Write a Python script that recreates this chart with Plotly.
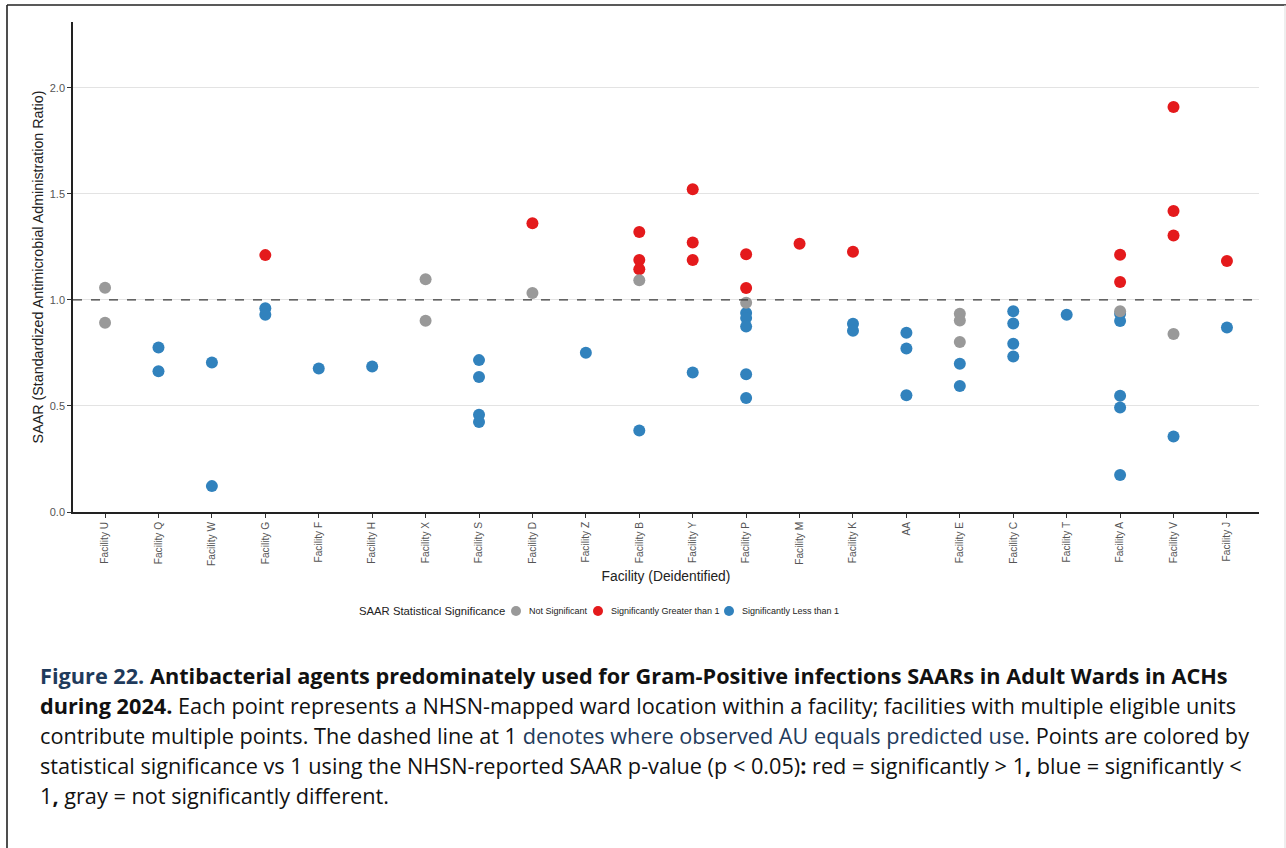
import plotly.graph_objects as go

# Facility order along the x axis
facilities = ["Facility U", "Facility Q", "Facility W", "Facility G", "Facility F",
              "Facility H", "Facility X", "Facility S", "Facility D", "Facility Z",
              "Facility B", "Facility Y", "Facility P", "Facility M", "Facility K",
              "AA", "Facility E", "Facility C", "Facility T", "Facility A",
              "Facility V", "Facility J"]

# Ward-level SAARs, grouped by significance category
not_sig_fac = ["Facility U", "Facility U", "Facility X", "Facility X", "Facility D",
               "Facility B", "Facility P", "Facility E", "Facility E", "Facility E",
               "Facility A", "Facility V"]
not_sig_val = [1.057, 0.892, 1.097, 0.902, 1.032,
               1.092, 0.987, 0.935, 0.903, 0.801,
               0.946, 0.839]

greater_fac = ["Facility G", "Facility D", "Facility B", "Facility B", "Facility B",
               "Facility Y", "Facility Y", "Facility Y", "Facility P", "Facility P",
               "Facility M", "Facility K", "Facility A", "Facility A",
               "Facility V", "Facility V", "Facility V", "Facility J"]
greater_val = [1.211, 1.361, 1.320, 1.188, 1.144,
               1.521, 1.271, 1.188, 1.215, 1.056,
               1.265, 1.227, 1.213, 1.084,
               1.909, 1.419, 1.303, 1.183]

less_fac = ["Facility Q", "Facility Q", "Facility W", "Facility W", "Facility G", "Facility G",
            "Facility F", "Facility H", "Facility S", "Facility S", "Facility S", "Facility S",
            "Facility Z", "Facility B", "Facility Y",
            "Facility P", "Facility P", "Facility P", "Facility P", "Facility P",
            "Facility K", "Facility K", "AA", "AA", "AA", "Facility E", "Facility E",
            "Facility C", "Facility C", "Facility C", "Facility C", "Facility T",
            "Facility A", "Facility A", "Facility A", "Facility A", "Facility A",
            "Facility V", "Facility J"]
less_val = [0.775, 0.664, 0.705, 0.122, 0.960, 0.930,
            0.677, 0.686, 0.716, 0.636, 0.458, 0.424,
            0.751, 0.384, 0.658,
            0.938, 0.914, 0.875, 0.649, 0.537,
            0.888, 0.855, 0.845, 0.771, 0.550, 0.699, 0.594,
            0.946, 0.889, 0.793, 0.733, 0.930,
            0.935, 0.900, 0.548, 0.493, 0.174,
            0.356, 0.870]

y_ticks = [0.0, 0.5, 1.0, 1.5, 2.0]
reference_line = 1.0
legend_title = "SAAR Statistical Significance"

C_GRAY = "#999999"
C_RED = "#E41A1C"
C_BLUE = "#3182BD"
NAVY = "#1F3B5C"
TICK_FONT = "Liberation Sans, Arial, sans-serif"
CAP_FONT = "'Open Sans', 'Noto Sans', sans-serif"

# Plot-area geometry (pixels) used to place the outside elements
W, H = 1286, 848
ML, MR, MT, MB = 73, 27, 22, 336
PW = W - ML - MR
PH = H - MT - MB


def px_x(px):
    return (px - ML) / PW


def px_y(py):
    return (H - MB - py) / PH


fig = go.Figure()

series = [
    ("Significantly Less than 1", less_fac, less_val, C_BLUE),
    ("Significantly Greater than 1", greater_fac, greater_val, C_RED),
    ("Not Significant", not_sig_fac, not_sig_val, C_GRAY),
]
for name, xs, ys, col in series:
    fig.add_trace(go.Scatter(
        x=xs, y=ys, mode="markers", name=name, showlegend=False,
        marker=dict(size=12, color=col, line=dict(width=0)),
        hovertemplate="%{x}<br>SAAR %{y:.2f}<extra>" + name + "</extra>",
    ))

# Dashed reference line at SAAR = 1
fig.add_shape(type="line", xref="paper", yref="y", x0=0, x1=1,
              y0=reference_line, y1=reference_line,
              line=dict(color="#3a3a3a", width=1.4, dash="dash"))

# Horizontal key below the x-axis title
legend_y = px_y(611)
fig.add_annotation(text=legend_title, xref="paper", yref="paper",
                   x=px_x(357), y=legend_y, xanchor="left", yanchor="middle",
                   showarrow=False,
                   font=dict(family=TICK_FONT, size=11.3, color="#222222"))
key_entries = [("Not Significant", C_GRAY, 516), ("Significantly Greater than 1", C_RED, 598),
               ("Significantly Less than 1", C_BLUE, 729)]
for label, col, dot_px in key_entries:
    fig.add_shape(type="circle", xref="paper", yref="paper",
                  xsizemode="pixel", ysizemode="pixel",
                  xanchor=px_x(dot_px), yanchor=legend_y,
                  x0=-5, x1=5, y0=-5, y1=5,
                  fillcolor=col, line=dict(width=0))
    fig.add_annotation(text=label, xref="paper", yref="paper",
                       x=px_x(dot_px + 11), y=legend_y, xanchor="left", yanchor="middle",
                       showarrow=False,
                       font=dict(family=TICK_FONT, size=9, color="#222222"))

# Outer frame around the figure block
frame = dict(color="#222222", width=1.6)
fig.add_shape(type="line", xref="paper", yref="paper",
              x0=px_x(7), x1=px_x(1286), y0=px_y(5), y1=px_y(5), line=frame)
fig.add_shape(type="line", xref="paper", yref="paper",
              x0=px_x(7), x1=px_x(7), y0=px_y(5), y1=px_y(850), line=frame)
fig.add_shape(type="line", xref="paper", yref="paper",
              x0=px_x(1285), x1=px_x(1285), y0=px_y(5), y1=px_y(850),
              line=dict(color="#dddddd", width=1))

# Caption beneath the chart
caption_lines = [
    "<b><span style='color:%s'>Figure 22.</span> Antibacterial agents predominately used for "
    "Gram-Positive infections SAARs in Adult Wards in ACHs</b>" % NAVY,
    "<b>during 2024.</b> Each point represents a NHSN-mapped ward location within a facility; "
    "facilities with multiple eligible units",
    "contribute multiple points. The dashed line at 1 <span style='color:%s'>denotes where observed "
    "AU equals predicted use</span>. Points are colored by" % NAVY,
    "statistical significance vs 1 using the NHSN-reported SAAR p-value (p &lt; 0.05)<b>:</b> "
    "red = significantly &gt; 1<b>,</b> blue = significantly &lt;",
    "1<b>,</b> gray = not significantly different.",
]
for i, line in enumerate(caption_lines):
    fig.add_annotation(text=line, xref="paper", yref="paper",
                       x=px_x(38), y=px_y(675 + 30 * i),
                       xanchor="left", yanchor="middle", showarrow=False,
                       font=dict(family=CAP_FONT, size=21.7, color="#111111"))

fig.update_layout(
    width=W, height=H,
    margin=dict(l=ML, r=MR, t=MT, b=MB, pad=0),
    paper_bgcolor="white", plot_bgcolor="white",
    showlegend=False,
    xaxis=dict(
        type="category", categoryorder="array", categoryarray=facilities,
        range=[-0.6, len(facilities) - 0.4],
        tickangle=-90, showgrid=False, zeroline=False,
        showline=True, linecolor="#222222", linewidth=1.5,
        ticks="outside", ticklen=4, tickcolor="#333333", tickwidth=1,
        tickfont=dict(family=TICK_FONT, size=10.2, color="#555555"),
        title=dict(text="Facility (Deidentified)", standoff=6,
                   font=dict(family=TICK_FONT, size=13.8, color="#222222")),
    ),
    yaxis=dict(
        range=[0, 2.31], tickvals=y_ticks, ticktext=["%.1f" % v for v in y_ticks],
        showgrid=True, gridcolor="#E3E3E3", gridwidth=1.2, zeroline=False,
        showline=True, linecolor="#222222", linewidth=1.5,
        ticks="outside", ticklen=4, tickcolor="#333333", tickwidth=1,
        tickfont=dict(family=TICK_FONT, size=11, color="#555555"),
        title=dict(text="SAAR (Standardized Antimicrobial Administration Ratio)", standoff=3,
                   font=dict(family=TICK_FONT, size=14.3, color="#222222")),
    ),
)

fig.write_html("out.html")
